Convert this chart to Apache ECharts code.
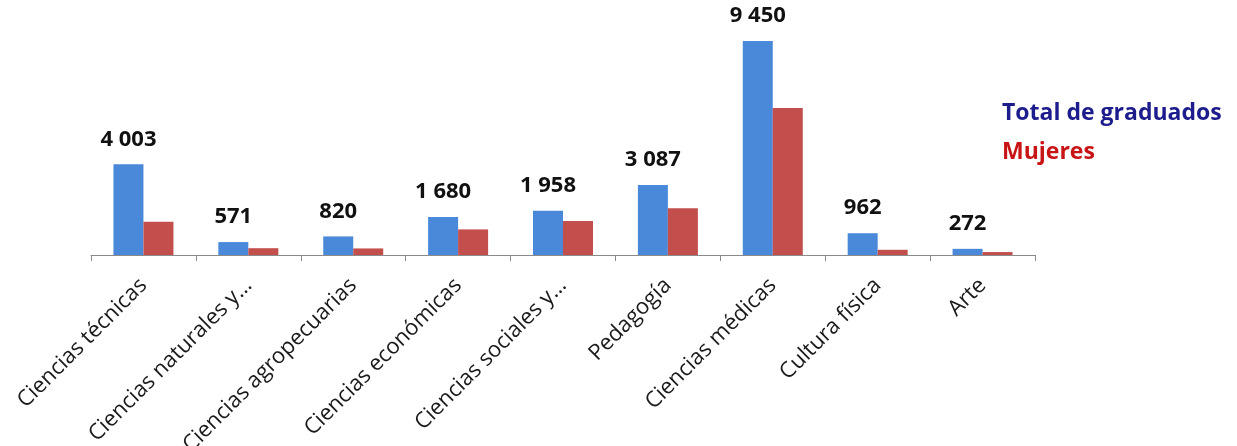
<!DOCTYPE html>
<html>
<head>
<meta charset="utf-8">
<script src="https://cdn.jsdelivr.net/npm/echarts@6/dist/echarts.min.js"></script>
<style>
  html, body { margin: 0; padding: 0; background: #fff; }
  #chart { width: 1237px; height: 446px; }
</style>
</head>
<body>
<div id="chart"></div>
<script>
const categories = ['Ciencias técnicas', 'Ciencias naturales y…', 'Ciencias agropecuarias', 'Ciencias económicas',
  'Ciencias sociales y…', 'Pedagogía', 'Ciencias médicas', 'Cultura física', 'Arte']
const totalGraduados = [4003, 571, 820, 1680, 1958, 3087, 9450, 962, 272]
// (sin etiqueta)
const mujeres = [1470, 300, 290, 1130, 1500, 2060, 6490, 230, 130]

const fmt = v => String(v).replace(/\B(?=(\d{3})+(?!\d))/g, ' ')
const font = '"Open Sans", "DejaVu Sans", sans-serif'

const myChart = echarts.init(document.getElementById('chart'))
const option = {
  backgroundColor: '#fff',
  animation: false,
  legend: {
    orient: 'vertical',
    left: 992,
    top: 97,
    icon: 'none',
    itemWidth: 0,
    itemGap: 16,
    selectedMode: false,
    textStyle: { fontFamily: font, fontSize: 23, fontWeight: 'bold' },
    data: [
      { name: 'Total de graduados', textStyle: { color: '#1c1c8c' } },
      { name: 'Mujeres', textStyle: { color: '#c81414' } }
    ]
  },
  grid: { left: 91, right: 202, top: 41, bottom: 191, containLabel: false, outerBoundsMode: 'none' },
  xAxis: {
    type: 'category',
    data: categories,
    axisLine: { lineStyle: { color: '#8a8a8a', width: 1 } },
    axisTick: { show: true, length: 6, lineStyle: { color: '#8a8a8a' } },
    axisLabel: {
      rotate: 45,
      interval: 0,
      margin: 27,
      color: '#1a1a1a',
      fontFamily: font,
      fontSize: 22
    }
  },
  yAxis: {
    type: 'value',
    min: 0,
    max: 9450,
    show: false,
    splitLine: { show: false }
  },
  series: [
    {
      name: 'Total de graduados',
      type: 'bar',
      data: totalGraduados,
      barWidth: 30,
      barGap: '0%',
      itemStyle: { color: '#4a89d9' },
      label: {
        show: true,
        position: 'top',
        distance: 14,
        color: '#111',
        fontFamily: font,
        fontSize: 22,
        fontWeight: 'bold',
        formatter: p => fmt(p.value)
      }
    },
    {
      name: 'Mujeres',
      type: 'bar',
      data: mujeres,
      barWidth: 30,
      barGap: '0%',
      itemStyle: { color: '#c34f4c' }
    }
  ]
}
myChart.setOption(option)
</script>
</body>
</html>
